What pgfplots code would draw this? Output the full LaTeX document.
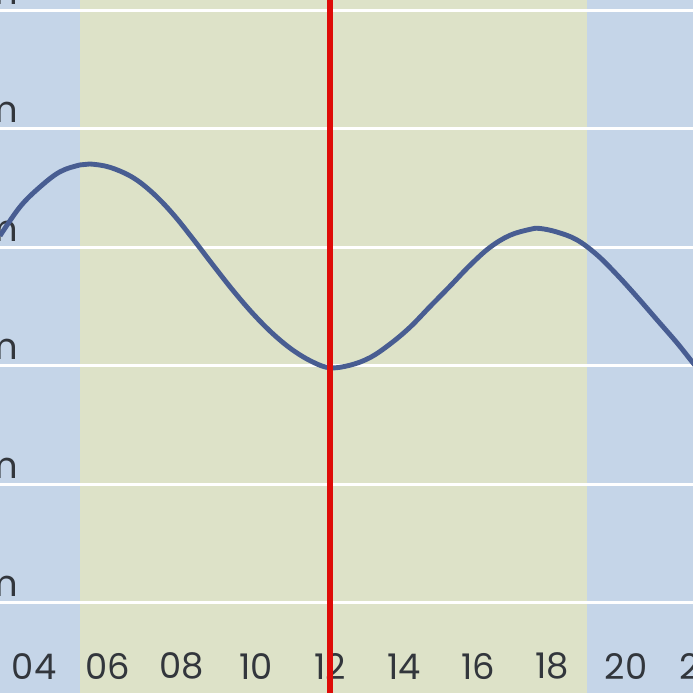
\documentclass[border=0pt]{standalone}
\usepackage{pgfplots}
\pgfplotsset{compat=1.18}
\usepackage{fontspec}
\setmainfont{Poppins}

\definecolor{nightblue}{RGB}{197,213,232}
\definecolor{dayband}{RGB}{221,226,200}
\definecolor{tideline}{RGB}{72,93,146}
\definecolor{nowred}{RGB}{222,12,8}
\definecolor{labelgray}{RGB}{50,54,60}

\begin{document}
\begin{tikzpicture}
\begin{axis}[
    at={(0,0)}, anchor=south west,
    scale only axis,
    width=10.368cm, height=10cm,
    xmin=3.08, xmax=22.5,
    ymin=-0.38, ymax=2.544,
    set layers,
    axis line style={draw=none},
    major tick length=0pt,
    xtick={4,6,...,22},
    xticklabels={04,06,08,10,12,14,16,18,20,22},
    x tick label style={anchor=south, yshift=2pt, font=\fontsize{14.5}{17}\selectfont, text=labelgray},
    ytick={0,0.5,...,2.5},
    yticklabels={0.0m,0.5m,1.0m,1.5m,2.0m,2.5m},
    y tick label style={anchor=south east, xshift=11pt, yshift=-1pt, font=\fontsize{15}{18}\selectfont, text=labelgray},
    grid line/.style={white, line width=1.2pt, forget plot, on layer=axis grid},
]
% night / day background
\addplot[fill=nightblue, draw=none, on layer=axis background]
    coordinates {(3.0,-1) (3.0,3) (23,3) (23,-1)} -- cycle;
\addplot[fill=dayband, draw=none, on layer=axis background]
    coordinates {(5.24,-1) (5.24,3) (18.95,3) (18.95,-1)} -- cycle;

% height grid
\addplot[grid line] coordinates {(3,0.0) (23,0.0)};
\addplot[grid line] coordinates {(3,0.5) (23,0.5)};
\addplot[grid line] coordinates {(3,1.0) (23,1.0)};
\addplot[grid line] coordinates {(3,1.5) (23,1.5)};
\addplot[grid line] coordinates {(3,2.0) (23,2.0)};
\addplot[grid line] coordinates {(3,2.5) (23,2.5)};

% tide height
\addplot[tideline, line width=2pt, smooth, tension=0.6] coordinates {
    (3.08,1.549) (3.62,1.671) (4.16,1.755) (4.70,1.819) (5.24,1.848)
    (5.51,1.852) (6.05,1.838) (6.67,1.795) (7.22,1.728) (7.76,1.640)
    (8.30,1.535) (8.84,1.425) (9.38,1.318) (9.92,1.220) (10.46,1.135)
    (11.00,1.066) (11.54,1.016) (12.00,0.992) (12.54,1.003) (13.08,1.035)
    (13.62,1.092) (14.16,1.163) (14.70,1.250) (15.24,1.336) (15.78,1.424)
    (16.32,1.500) (16.86,1.551) (17.40,1.576) (17.67,1.580) (18.13,1.565)
    (18.67,1.532) (19.22,1.468) (19.76,1.384) (20.30,1.291) (20.84,1.194)
    (21.38,1.097) (21.81,1.013) (22.40,0.90)
};

% current time
\addplot[nowred, line width=2.1pt] coordinates {(12,-1) (12,3)};
\end{axis}
\pgfresetboundingbox
\useasboundingbox (0,0) rectangle (10cm,10cm);
\end{tikzpicture}
\end{document}
